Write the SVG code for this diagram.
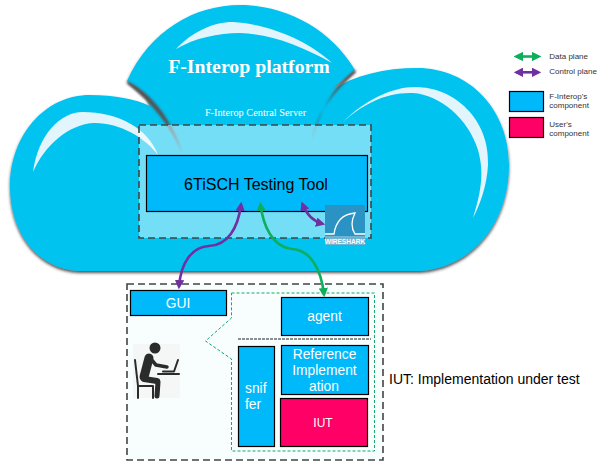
<svg xmlns="http://www.w3.org/2000/svg" width="603" height="463" viewBox="0 0 603 463">
<defs>
<style>
.sans{font-family:"Liberation Sans",Arial,sans-serif}
.serif{font-family:"Liberation Serif","Times New Roman",serif;fill:#fff}
.blue{fill:#00b9fb;stroke:#000;stroke-width:1.2}
.pink{fill:#ff0066;stroke:#000;stroke-width:1.2}
.w{fill:#fff;font-size:13.8px;text-anchor:middle}
.dash{fill:none;stroke:#444;stroke-width:1.6;stroke-dasharray:7 4}
.gl{fill:none;stroke:#14a966;stroke-width:1;stroke-dasharray:3 2}
.pu{fill:none;stroke:#7030a0;stroke-width:2.6}
.gr{fill:none;stroke:#0fae5c;stroke-width:2.6}
.lg{font-size:8px;fill:#333}
.hl{fill:#e2f4fc}
.p{fill:none;stroke:#2b2b2b;stroke-linecap:round;stroke-linejoin:round}
</style>
<filter id="sh" x="-5%" y="-5%" width="110%" height="110%"><feDropShadow dx="0" dy="2" stdDeviation="1.5" flood-color="#333" flood-opacity=".85"/></filter>
<filter id="bl" x="-10%" y="-10%" width="120%" height="120%"><feGaussianBlur stdDeviation="1"/></filter>
<marker id="mp" viewBox="0 0 10 10" refX="7" refY="5" markerWidth="3.600" markerHeight="3.600" orient="auto-start-reverse"><path d="M0 0L10 5L0 10z" fill="#7030a0"/></marker>
<marker id="mg" viewBox="0 0 10 10" refX="7" refY="5" markerWidth="3.600" markerHeight="3.600" orient="auto-start-reverse"><path d="M0 0L10 5L0 10z" fill="#0fae5c"/></marker>
</defs>
<g id="cloud">
<path filter="url(#sh)" fill="#00c3f0" d="M80 271C40 270 10 235 10 187C10 135 45 95 90 95C115 95 135 99 150 106L147 96C141 90 134 85 127 81C150 30 195 5 240 5C285 5 330 28 355 70C348 76 338 83 331 90C355 75 385 68 417 68C470 68 509 110 509 165C509 225 470 268 420 271Z"/>
<path filter="url(#bl)" fill="#555" d="M127 81C150 92 172 118 183 155C172 127 152 104 128 84Z"/>
<path filter="url(#bl)" fill="#555" d="M355 70C335 85 320 110 312 140C316 114 332 94 356 72Z"/>
<path class="hl" d="M33 172C38 135 60 112 83 112C118 112 148 128 158 155C145 137 118 122 93 123C68 125 45 145 33 172Z"/>
<path class="hl" d="M176 49C192 32 213 22 233 22C270 24 310 42 332 63C300 45 270 34 240 33C218 33 195 38 176 49Z"/>
<path class="hl" d="M343 122C365 100 392 87 415 87C455 87 490 120 488 165C487 185 480 205 473 218C480 195 485 175 478 150C468 118 440 95 413 93C385 92 362 105 343 122Z"/>
</g>
<g id="server">
<rect x="139" y="125" width="232" height="113" fill="#fff" fill-opacity=".46"/>
<rect class="dash" x="139" y="125" width="232" height="113"/>
<text class="serif" x="249" y="73" font-size="19.800" font-weight="bold" text-anchor="middle">F-Interop platform</text>
<text class="serif" x="255.500" y="116" font-size="10.300" text-anchor="middle">F-Interop Central Server</text>
</g>
<g id="tool">
<rect class="blue" x="146.500" y="155.500" width="221" height="56"/>
<text class="sans" x="256" y="190" font-size="16" text-anchor="middle">6TiSCH Testing Tool</text>
</g>
<g id="wireshark">
<rect x="325" y="205" width="40" height="40" fill="#2a93c4"/>
<rect x="325" y="236" width="40" height="9" fill="#6fb3d3"/>
<path d="M325 234H334C336 220 343 214 355 213C351 221 351 228 355 234H365" fill="none" stroke="#fff" stroke-width="1.3"/>
<text class="sans" x="345" y="243.500" font-size="6.600" font-weight="bold" fill="#fff" text-anchor="middle">WIRESHARK</text>
</g>
<g id="iut-box">
<rect x="127" y="284" width="256" height="176" fill="#f8fdfd"/>
<rect class="dash" x="127" y="284" width="256" height="176"/>
<path class="gl" d="M231.500 293H374.500V451H231.500V359L205.500 341L231.500 318Z"/>
<path d="M238 339H371" fill="none" stroke="#222" stroke-width="1" stroke-dasharray="3 1"/>
</g>
<g id="gui"><rect class="blue" x="130.500" y="290.500" width="96" height="25"/><text class="sans w" x="178" y="308">GUI</text></g>
<g id="agent"><rect class="blue" x="281.500" y="297.500" width="87" height="38"/><text class="sans w" x="324.500" y="321">agent</text></g>
<g id="sniffer"><rect class="blue" x="238.500" y="346.500" width="36" height="100"/><text class="sans w" x="245" y="393" style="text-anchor:start">snif</text><text class="sans w" x="245" y="409" style="text-anchor:start">fer</text></g>
<g id="ref"><rect class="blue" x="281.500" y="345.500" width="87" height="49"/><text class="sans w" x="324.500" y="359">Reference</text><text class="sans w" x="324.500" y="375">Implement</text><text class="sans w" x="324" y="391">ation</text></g>
<g id="iut"><rect class="pink" x="280.500" y="398.500" width="87" height="48"/><text class="sans w" x="323" y="427" style="font-size:12px">IUT</text></g>
<text class="sans" x="389" y="384" font-size="14">IUT: Implementation under test</text>
<g id="user">
<rect x="133" y="344" width="47" height="54" fill="#f5f7f7"/>
<circle cx="155" cy="348" r="5.500" fill="#2b2b2b"/>
<path class="p" stroke-width="9" d="M149 358L144 377"/>
<path class="p" stroke-width="6" d="M144 379L157 381"/>
<path class="p" stroke-width="5" d="M158 382L157 396"/>
<path class="p" stroke-width="3.500" d="M150 358L156 365L167 367"/>
<path class="p" stroke-width="2" d="M135 360L138 386V398M138 386H153V398"/>
<path class="p" stroke-width="2" d="M158 374H179"/>
<path class="p" stroke-width="2" d="M163 371.500H174L178 360"/>
</g>
<g id="connectors">
<path class="pu" marker-start="url(#mp)" marker-end="url(#mp)" d="M241 204.500C238 228 228 245 209 246C192 247 181 262 179 286.500"/>
<path class="gr" marker-start="url(#mg)" marker-end="url(#mg)" d="M260.500 204.500C263 225 272 247 292 249C310 250 321 268 324 294.500"/>
<path class="pu" marker-start="url(#mp)" marker-end="url(#mp)" d="M302.500 204C306 213 312 221 322.500 223.800"/>
</g>
<g id="legend">
<path class="gr" marker-start="url(#mg)" marker-end="url(#mg)" d="M516.500 56.500H538.500"/>
<text class="sans lg" x="549.300" y="59.300">Data plane</text>
<path class="pu" marker-start="url(#mp)" marker-end="url(#mp)" d="M516.500 72.300H538.500"/>
<text class="sans lg" x="549.300" y="74">Control plane</text>
<rect class="blue" x="509.500" y="91.500" width="34" height="20"/>
<text class="sans lg" x="549.300" y="99">F-Interop's</text>
<text class="sans lg" x="549.300" y="108.300">component</text>
<rect class="pink" x="509.500" y="117.500" width="34" height="20"/>
<text class="sans lg" x="549.300" y="126.700">User's</text>
<text class="sans lg" x="549.300" y="135.700">component</text>
</g>
</svg>
